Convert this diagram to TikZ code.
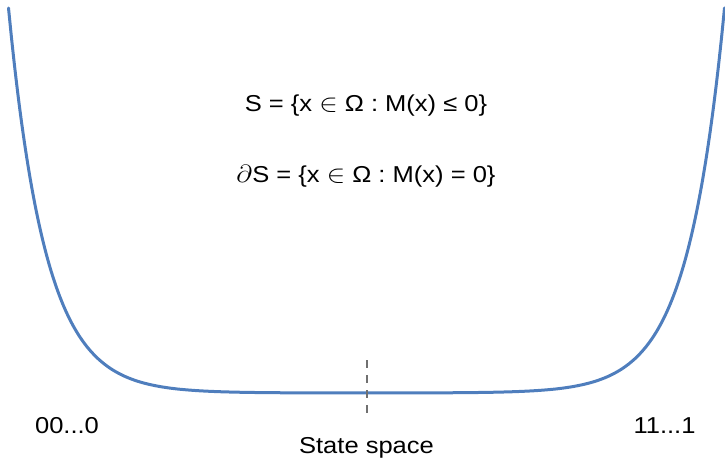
\documentclass[tikz,border=0pt]{standalone}
\usepackage{fontspec}
\usepackage{graphicx}
\setmainfont{Liberation Sans}
\definecolor{curveblue}{HTML}{4F7EBD}
\definecolor{dashgray}{HTML}{707070}
\newcommand{\wtext}[1]{\scalebox{1.11}[1]{#1}}
\tikzset{
  lbl/.style={anchor=base, inner sep=0pt, font=\fontsize{23}{27}\selectfont},
  wellcurve/.style={draw=curveblue, line width=3pt, line cap=round},
  midmark/.style={draw=dashgray, line width=1.8pt, dash pattern=on 8pt off 7pt}
}
\begin{document}
\begin{tikzpicture}[x=1pt,y=-1pt]
\useasboundingbox (0,0) rectangle (725,460);
% well-shaped curve
\draw[wellcurve] plot[domain=8.5:724.5, samples=240, smooth]
  (\x, {393-385*(exp(0.027*(\x-724.5))+exp(0.027*(8.5-\x)))});
% dashed centre mark
\coordinate (dtop) at (367,360);
\coordinate (dbot) at (367,414);
\draw[midmark] (dtop) -- (dbot);
% texts
\node[lbl] (setS) at (366,111) {\wtext{S = \{x $\in$ Ω : M(x) ≤ 0\}}};
\node[lbl] (bndS) at (366,182) {\wtext{$\partial$S = \{x $\in$ Ω : M(x) = 0\}}};
\node[lbl] (zeros) at (67,433) {\wtext{00...0}};
\node[lbl] (ones) at (664.5,433) {\wtext{11...1}};
\node[lbl] (space) at (366.5,453) {\wtext{State space}};
\end{tikzpicture}
\end{document}
